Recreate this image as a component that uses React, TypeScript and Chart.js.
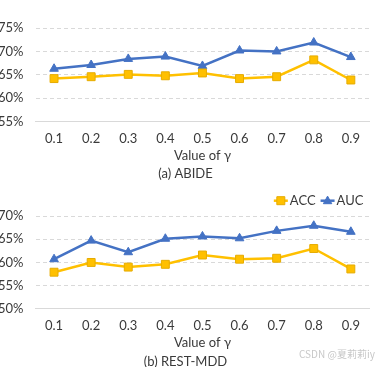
import React, { useEffect, useRef } from 'react';
import { Chart, registerables } from 'chart.js';

Chart.register(...registerables);

const gammaLabels = ['0.1', '0.2', '0.3', '0.4', '0.5', '0.6', '0.7', '0.8', '0.9'];
const abideAcc = [64.2, 64.6, 65.1, 64.8, 65.4, 64.2, 64.6, 68.2, 63.9];
const abideAuc = [66.3, 67.1, 68.4, 68.9, 66.9, 70.2, 70.0, 71.9, 68.8];
const mddAcc = [57.9, 60.0, 59.0, 59.6, 61.6, 60.7, 60.9, 63.0, 58.6];
const mddAuc = [60.7, 64.7, 62.2, 65.1, 65.6, 65.2, 66.8, 67.9, 66.6];

const ACC_COLOR = '#FFC000';
const ACC_BORDER = '#E6AC00';
const AUC_COLOR = '#4472C4';
const TEXT = '#3A3A3A';
const FONT = 'Lato, "Open Sans", sans-serif';
const FS = 13;

const legendPlugin = {
  id: 'lineLegend',
  afterDraw(chart: any, _args: any, opts: any) {
    if (!opts || !opts.show) return;
    const ctx = chart.ctx;
    ctx.save();
    ctx.font = `${FS}px ${FONT}`;
    ctx.textBaseline = 'middle';
    const y = opts.y;
    const lineW = 14;
    const gap = 2;
    const itemGap = 5;
    const items = chart.data.datasets.map((d: any) => ({
      label: d.label,
      color: d.borderColor,
      fill: d.pointBackgroundColor,
      stroke: d.pointBorderColor,
      style: d.pointStyle,
      w: ctx.measureText(d.label).width,
    }));
    let total = 0;
    items.forEach((it: any, i: number) => {
      total += lineW + gap + it.w + (i < items.length - 1 ? itemGap : 0);
    });
    let x = chart.chartArea.right - opts.rightInset - total;
    items.forEach((it: any) => {
      ctx.strokeStyle = it.color;
      ctx.lineWidth = 2.5;
      ctx.beginPath();
      ctx.moveTo(x, y);
      ctx.lineTo(x + lineW, y);
      ctx.stroke();
      const cx = x + lineW / 2;
      ctx.fillStyle = it.fill;
      ctx.strokeStyle = it.stroke;
      ctx.lineWidth = 1;
      ctx.beginPath();
      if (it.style === 'rect') {
        ctx.rect(cx - 4, y - 4, 8, 8);
      } else {
        ctx.moveTo(cx, y - 4.6);
        ctx.lineTo(cx + 4.2, y + 3);
        ctx.lineTo(cx - 4.2, y + 3);
        ctx.closePath();
      }
      ctx.fill();
      ctx.stroke();
      ctx.fillStyle = TEXT;
      ctx.textAlign = 'left';
      ctx.fillText(it.label, x + lineW + gap, y + 0.5);
      x += lineW + gap + it.w + itemGap;
    });
    ctx.restore();
  },
};

function makeConfig(
  acc: number[],
  auc: number[],
  yMin: number,
  yMax: number,
  subtitle: string,
  showLegend: boolean,
  topPad: number,
  subBottomPad: number,
  xHeight: number
): any {
  return {
    type: 'line',
    data: {
      labels: gammaLabels,
      datasets: [
        {
          label: 'ACC',
          data: acc,
          borderColor: ACC_COLOR,
          borderWidth: 2.5,
          pointStyle: 'rect',
          pointRadius: 5.6,
          pointBackgroundColor: ACC_COLOR,
          pointBorderColor: ACC_BORDER,
          pointBorderWidth: 1,
          tension: 0,
        },
        {
          label: 'AUC',
          data: auc,
          borderColor: AUC_COLOR,
          borderWidth: 2.5,
          pointStyle: 'triangle',
          pointRadius: 5,
          pointBackgroundColor: AUC_COLOR,
          pointBorderColor: AUC_COLOR,
          pointBorderWidth: 1,
          tension: 0,
        },
      ],
    },
    options: {
      animation: false,
      responsive: true,
      maintainAspectRatio: false,
      layout: { padding: { top: topPad, right: 1, left: 0, bottom: 0 } },
      plugins: {
        legend: { display: false },
        tooltip: { enabled: false },
        title: {
          display: true,
          position: 'bottom',
          text: subtitle,
          color: TEXT,
          font: { family: FONT, size: FS, weight: 'normal' },
          padding: { top: 2, bottom: subBottomPad },
        },
        lineLegend: { show: showLegend, y: 15.7, rightInset: 6 },
      },
      scales: {
        x: {
          offset: true,
          afterFit: (scale: any) => {
            scale.height = xHeight;
          },
          grid: { display: false, drawTicks: false },
          border: { display: true, color: '#D9D9D9', width: 1 },
          ticks: { color: TEXT, font: { family: FONT, size: FS }, padding: 9 },
          title: {
            display: true,
            text: 'Value of γ',
            color: TEXT,
            font: { family: FONT, size: FS },
            padding: { top: 0, bottom: 1 },
          },
        },
        y: {
          min: yMin,
          max: yMax,
          afterFit: (scale: any) => {
            scale.width = 39.5;
          },
          grid: { color: '#D9D9D9', drawTicks: false, lineWidth: 1 },
          border: { display: false, dash: [4, 3] },
          ticks: {
            stepSize: 5,
            color: TEXT,
            font: { family: FONT, size: FS },
            padding: 12,
            callback: (v: any) => `${v}%`,
          },
        },
      },
    },
    plugins: [legendPlugin],
  };
}

function LineChart({ acc, auc, yMin, yMax, subtitle, showLegend, topPad, subBottomPad, xHeight }: any) {
  const ref = useRef<HTMLCanvasElement | null>(null);
  useEffect(() => {
    if (!ref.current) return;
    const chart = new Chart(
      ref.current,
      makeConfig(acc, auc, yMin, yMax, subtitle, showLegend, topPad, subBottomPad, xHeight)
    );
    return () => chart.destroy();
  }, []);
  return <canvas ref={ref} />;
}

export default function App() {
  return (
    <div style={{ position: 'fixed', left: 0, top: 0, width: 376, height: 367, background: '#fff', overflow: 'hidden' }}>
      <div style={{ position: 'absolute', left: -4, top: 0, width: 380, height: 185 }}>
        <LineChart acc={abideAcc} auc={abideAuc} yMin={55} yMax={75} subtitle="(a) ABIDE" showLegend={false} topPad={28} subBottomPad={3} xHeight={42.7} />
      </div>
      <div style={{ position: 'absolute', left: -4, top: 185, width: 380, height: 182 }}>
        <LineChart acc={mddAcc} auc={mddAuc} yMin={50} yMax={70} subtitle="(b) REST-MDD" showLegend={true} topPad={31} subBottomPad={-2.5} xHeight={43} />
      </div>
      <div
        style={{
          position: 'absolute',
          left: 299,
          top: 346,
          fontSize: 10,
          color: '#C8C8C8',
          fontFamily: '"Noto Sans CJK SC", "Noto Sans", sans-serif',
          whiteSpace: 'nowrap',
        }}
      >
        CSDN @夏莉莉iy
      </div>
    </div>
  );
}
